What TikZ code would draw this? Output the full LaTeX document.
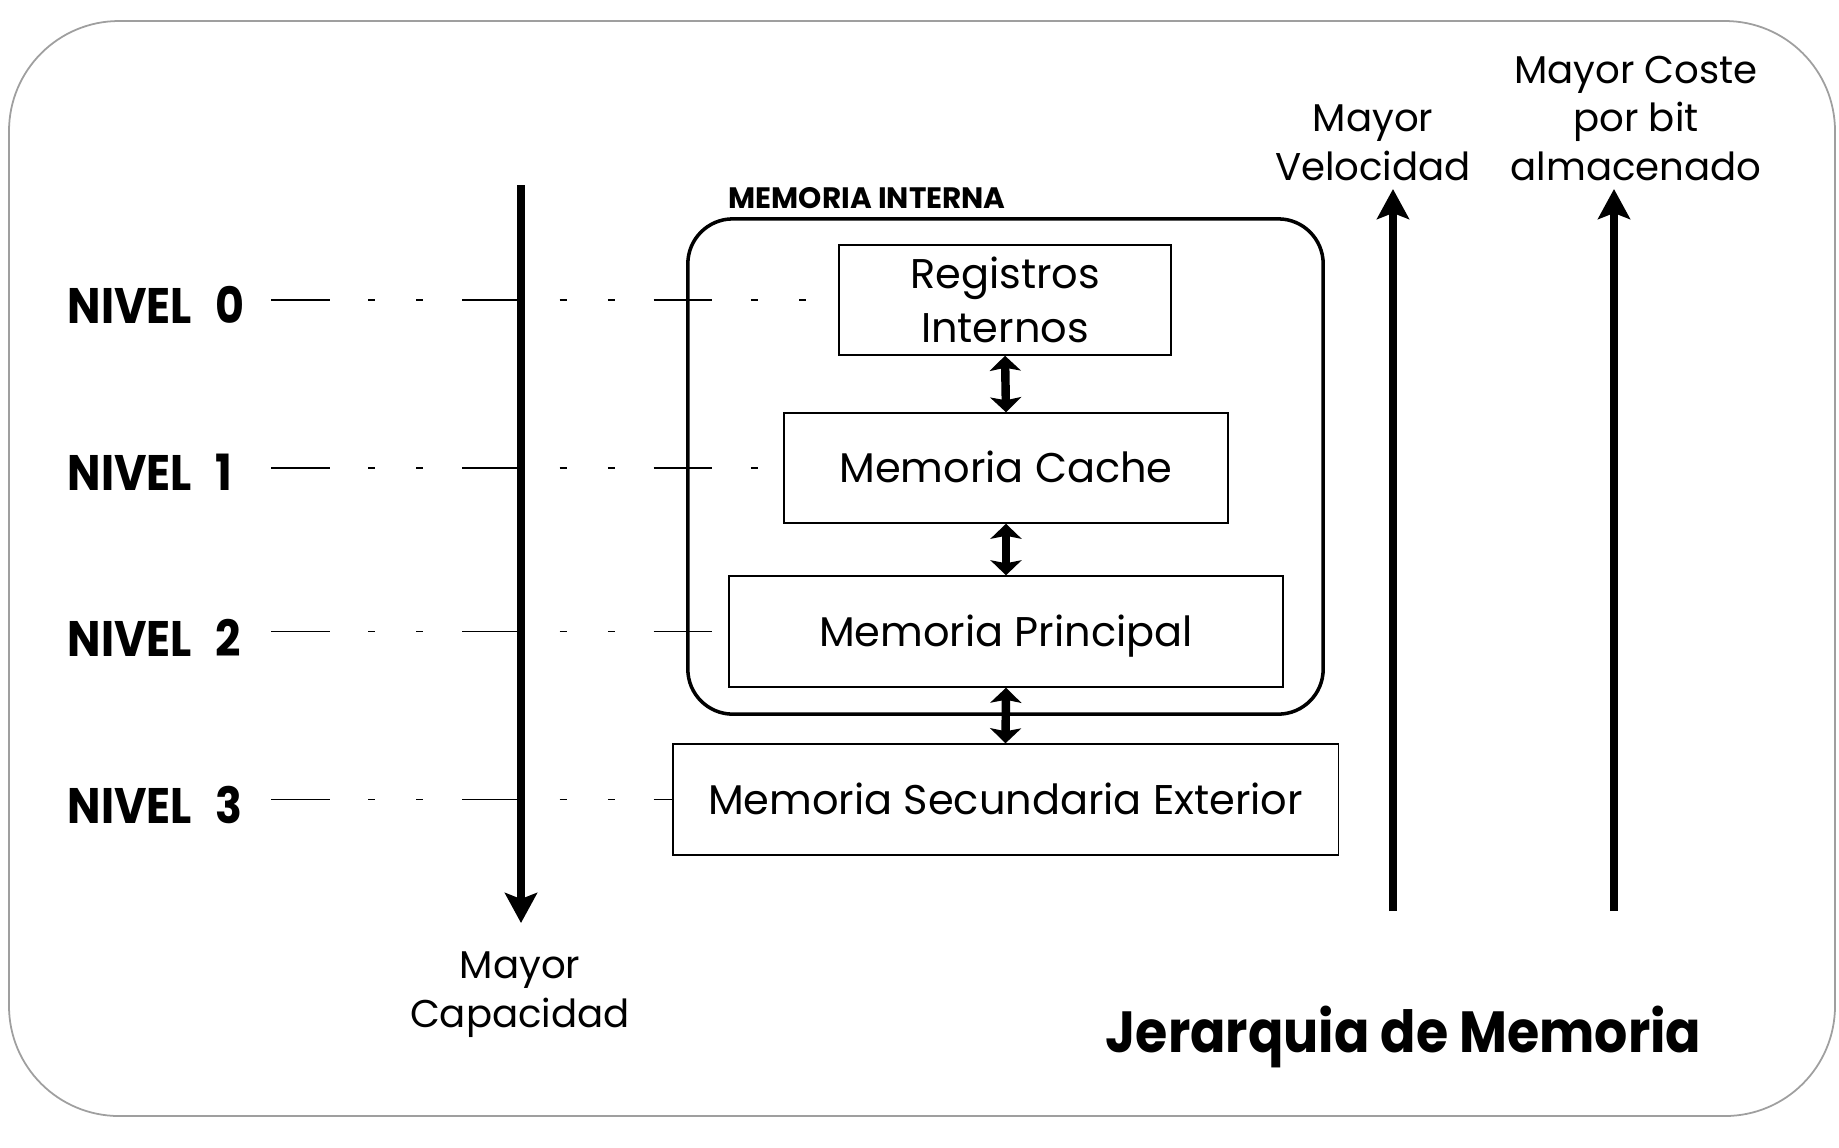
\documentclass[tikz,border=0pt]{standalone}
\usepackage{fontspec}
\setmainfont{Poppins}
\usetikzlibrary{arrows.meta}
\newcommand{\squeeze}[2]{\scalebox{#1}[1]{#2}}
\begin{document}
\begin{tikzpicture}[x=0.01cm,y=-0.01cm,
  box/.style={draw, line width=0.4pt, inner sep=0pt, align=center,
    font=\fontsize{11.8}{15.4}\selectfont},
  oneline/.style={text height=8.3pt, text depth=0pt},
  lbl/.style={inner sep=0pt, align=center, font=\fontsize{11}{13.66}\selectfont},
  nivel/.style={inner sep=0pt, font=\bfseries\fontsize{14.2}{16}\selectfont},
  lev/.style={line width=0.35pt, dash pattern=on 0.586cm off 0.387cm on 0.07cm off 0.411cm on 0.07cm off 0.388cm},
  dbl/.style={line width=2.4pt, {Stealth[length=0.15cm,width=0.31cm,inset=0.03cm]}-{Stealth[length=0.15cm,width=0.31cm,inset=0.03cm]}},
  bigarrow/.style={line width=2.1pt, -{Stealth[length=0.30cm,width=0.32cm,inset=0.06cm]}}
]
\useasboundingbox (0,0) rectangle (1839,1147);
\fill[white] (0,0) rectangle (1839,1147);
% outer frame
\draw[gray!75, line width=0.5pt, rounded corners=1.1cm] (9,21) rectangle (1835,1116);

% memoria interna
\node[draw, line width=1pt, rounded corners=0.45cm, minimum width=6.35cm, minimum height=4.95cm] (interna) at (1005.5,466.5) {};
\node[inner sep=0pt, anchor=base west, font=\bfseries\fontsize{8.4}{10}\selectfont] (tint) at (728,208) {MEMORIA INTERNA};

% boxes
\node[box, minimum width=3.32cm, minimum height=1.10cm] (reg) at (1005,300) {Registros\\Internos};
\node[box, oneline, minimum width=4.44cm, minimum height=1.10cm] (cache) at (1006,468) {Memoria Cache};
\node[box, oneline, minimum width=5.54cm, minimum height=1.11cm] (princ) at (1006,631.5) {Memoria Principal};
\node[box, oneline, minimum width=6.65cm, minimum height=1.11cm] (sec) at (1005.5,799.5) {Memoria Secundaria Exterior};

% double arrows
\draw[dbl] (reg.south) -- (cache.north);
\draw[dbl] (cache.south) -- (princ.north);
\draw[dbl] (princ.south) -- (sec.north);

% level labels
\node[nivel, anchor=base west] (n0) at (67,323) {\squeeze{0.89}{NIVEL\hspace{0.27cm}0}};
\node[nivel, anchor=base west] (n1) at (67,490) {\squeeze{0.89}{NIVEL\hspace{0.27cm}1}};
\node[nivel, anchor=base west] (n2) at (67,656) {\squeeze{0.89}{NIVEL\hspace{0.27cm}2}};
\node[nivel, anchor=base west] (n3) at (67,823) {\squeeze{0.89}{NIVEL\hspace{0.27cm}3}};

% dashed level lines
\coordinate (s) at (271,0);
\draw[lev] (reg.west -| s) -- (reg.west);
\draw[lev] (cache.west -| s) -- (cache.west);
\draw[lev] (princ.west -| s) -- (princ.west);
\draw[lev] (sec.west -| s) -- (sec.west);

% capacity arrow
\coordinate (capTop) at (521,185);
\coordinate (capTip) at (521,923);
\draw[bigarrow] (capTop) -- (capTip);
\node[lbl, anchor=base] (cap) at (520,1027) {Mayor\\Capacidad};

% speed and cost arrows
\coordinate (velBot) at (1393,911);
\coordinate (velTip) at (1393,189);
\draw[bigarrow] (velBot) -- (velTip);
\coordinate (cosBot) at (1614,911);
\coordinate (cosTip) at (1614,189);
\draw[bigarrow] (cosBot) -- (cosTip);
\node[lbl, anchor=base] (vel) at (1373,180) {Mayor\\Velocidad};
\node[lbl, anchor=base] (cos) at (1636,180) {Mayor Coste\\por bit\\almacenado};

% title
\node[inner sep=0pt, anchor=base west, font=\bfseries\fontsize{16.5}{20}\selectfont] (title) at (1105,1052) {\squeeze{0.9}{Jerarquia de Memoria}};
\end{tikzpicture}
\end{document}
